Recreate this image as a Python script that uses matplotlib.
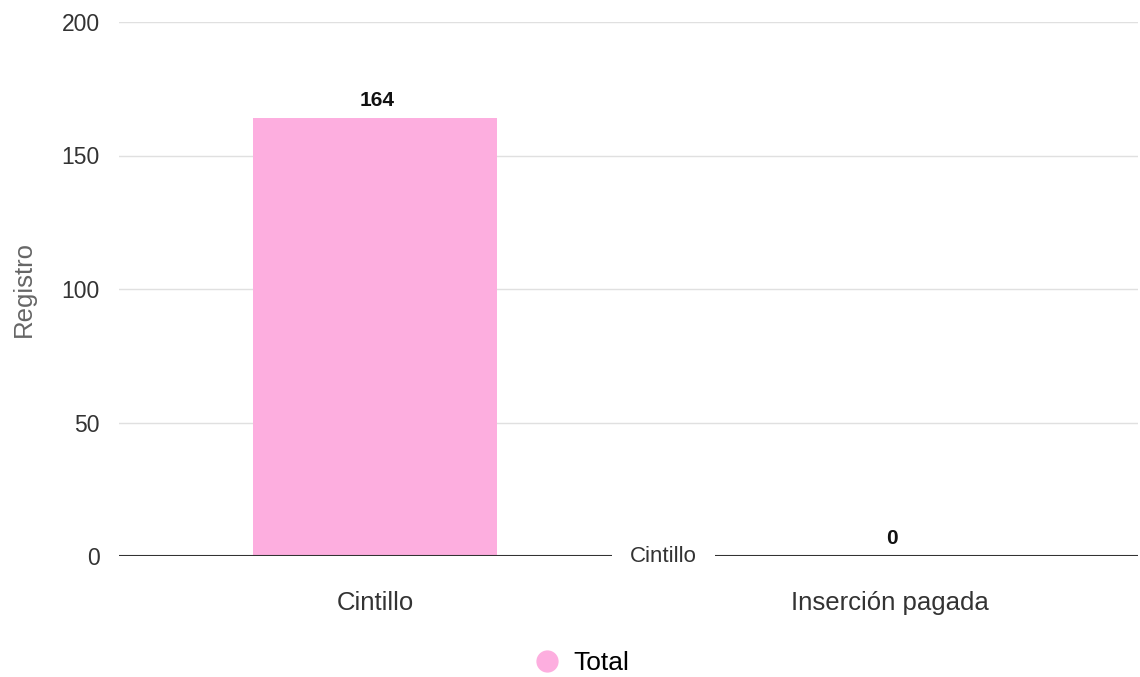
import numpy as np
import matplotlib.pyplot as plt

plt.rcParams['font.family'] = ['Liberation Sans', 'DejaVu Sans']

categories = ['Cintillo', 'Inserción pagada']
totals = [164, 0]
series_name = 'Total'
yticks = [0, 50, 100, 150, 200]

fig = plt.figure(figsize=(11.4, 6.77), dpi=100)
ax = fig.add_axes([119/1140, 1-556/677, (1138-119)/1140, (556-22)/677])

x = np.arange(len(categories))
bars = ax.bar(x, totals, width=0.474, color='#fdaedf', zorder=2, label=series_name)

for xi, v in zip(x, totals):
    ax.text(xi + 0.005, v + 3, str(v), ha='center', va='bottom', fontsize=15,
            fontweight='bold', color='#111111', zorder=4)

ax.set_xlim(-0.497, 1.482)
ax.set_ylim(0, 200)
ax.set_yticks(yticks)
ax.set_yticklabels([str(t) for t in yticks], fontsize=16.5, color='#333333')
ax.set_xticks(x)
ax.set_xticklabels(categories, fontsize=18.5, color='#333333')
ax.tick_params(axis='y', length=0, pad=14)
ax.tick_params(axis='x', length=0, pad=25)
ax.grid(axis='y', color='#e0e0e0', linewidth=1, zorder=0)
for s in ax.spines.values():
    s.set_visible(False)
ax.axhline(0, color='#333333', linewidth=1.5, zorder=3)

# stray category label sitting on the baseline
ax.text(0.561, 0, categories[0], ha='center', va='center', fontsize=16,
        color='#333333', zorder=5,
        bbox=dict(facecolor='white', edgecolor='none', pad=13))

ax.set_ylabel('Registro', fontsize=18.5, color='#666666')
ax.yaxis.set_label_coords(-0.082, 0.5)

fig.legend(loc='center', bbox_to_anchor=(582/1140, 1-663/677), frameon=False,
           fontsize=19,
           handles=[plt.Line2D([], [], marker='o', linestyle='', markersize=15,
                               color='#fdaedf')],
           labels=[series_name], handlelength=1.0, handletextpad=0.5)

fig.savefig('out.png', dpi=100)
